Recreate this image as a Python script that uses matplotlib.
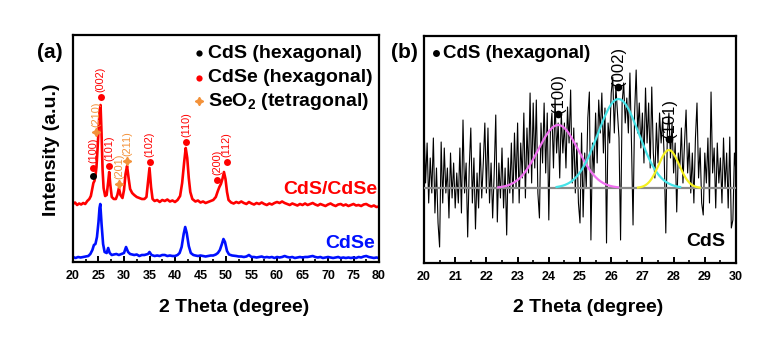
import numpy as np
import matplotlib
matplotlib.use('Agg')
import matplotlib.pyplot as plt
from matplotlib.ticker import MultipleLocator

plt.rcParams['font.family'] = ['Liberation Sans', 'DejaVu Sans']
plt.rcParams['mathtext.fontset'] = 'custom'
plt.rcParams['mathtext.rm'] = 'Liberation Sans'
plt.rcParams['mathtext.bf'] = 'Liberation Sans:bold'

# ---------------- panel (a): XRD patterns (2theta, intensity a.u.) ----------------
cds_cdse_trace = [
    (20.0, 58), (20.4, 59.5), (20.8, 57), (21.2, 58.5), (21.6, 57.5), (22.0, 59),
    (22.4, 58), (22.8, 61), (23.2, 63), (23.5, 66), (23.8, 74), (24.0, 79),
    (24.2, 81), (24.4, 86), (24.6, 95), (24.8, 112), (25.0, 132), (25.2, 150),
    (25.4, 157), (25.6, 128), (25.8, 92), (26.0, 74), (26.3, 66), (26.6, 67),
    (26.9, 80), (27.1, 90), (27.3, 78), (27.6, 65), (28.0, 63), (28.4, 63),
    (28.7, 67), (29.0, 74), (29.3, 67), (29.7, 64), (30.0, 72), (30.3, 88),
    (30.6, 96), (30.9, 84), (31.2, 73), (31.6, 69), (32.0, 67), (32.5, 65),
    (33.0, 64), (33.5, 63), (34.0, 63), (34.4, 65), (34.7, 80), (35.0, 94),
    (35.3, 75), (35.6, 63), (36.0, 61), (36.5, 62), (37.0, 60), (37.5, 62),
    (38.0, 61), (38.5, 62.5), (39.0, 60.5), (39.5, 61.5), (40.0, 60), (40.5, 62),
    (41.0, 66), (41.4, 79), (41.8, 100), (42.1, 114), (42.4, 104), (42.7, 84),
    (43.0, 70), (43.4, 63), (44.0, 60.5), (44.5, 61.5), (45.0, 59.5), (45.5, 60.5),
    (46.0, 59), (46.5, 60), (47.0, 61), (47.5, 62), (48.0, 65), (48.4, 71),
    (48.7, 75), (49.0, 78), (49.3, 83), (49.6, 90), (49.9, 83), (50.2, 70),
    (50.5, 62), (51.0, 59.5), (51.5, 58.5), (52.0, 60), (52.5, 59), (53.0, 60.5),
    (53.5, 59), (54.0, 58), (54.5, 60), (55.0, 58.5), (55.5, 57.5), (56.0, 59),
    (56.5, 58), (57.0, 59.5), (57.5, 58), (58.0, 57), (58.5, 58.5), (59.0, 57.5),
    (59.5, 59), (60.0, 60), (60.5, 59), (61.0, 60.5), (61.5, 59), (62.0, 58),
    (62.5, 57), (63.0, 58.5), (63.5, 57.5), (64.0, 56.5), (64.5, 58), (65.0, 57),
    (65.5, 58.5), (66.0, 57), (66.5, 58), (67.0, 59), (67.5, 57.5), (68.0, 56.5),
    (68.5, 58), (69.0, 57), (69.5, 56), (70.0, 57.5), (70.5, 58.5), (71.0, 57),
    (71.5, 56), (72.0, 57.5), (72.5, 58), (73.0, 56.5), (73.5, 57.5), (74.0, 56),
    (74.5, 57), (75.0, 58), (75.5, 56.5), (76.0, 57), (76.5, 56), (77.0, 57.5),
    (77.5, 58), (78.0, 56.5), (78.5, 55.5), (79.0, 56.5), (79.5, 55), (80.0, 55.5),
]

cdse_trace = [
    (20.0, 5), (20.5, 4), (21.0, 5), (21.5, 4.5), (22.0, 5), (22.5, 5.5),
    (23.0, 6), (23.4, 8), (23.8, 12), (24.1, 17), (24.4, 18), (24.7, 25),
    (25.0, 40), (25.2, 54), (25.35, 58), (25.6, 38), (25.9, 18), (26.2, 10),
    (26.6, 9), (26.9, 14), (27.2, 9), (27.6, 7), (28.0, 7.5), (28.5, 8),
    (29.0, 7), (29.5, 8), (30.0, 9), (30.4, 15), (30.8, 10), (31.2, 8),
    (32.0, 7), (32.5, 7.5), (33.0, 6), (33.5, 7), (34.0, 7), (34.7, 8),
    (35.0, 10), (35.4, 7), (36.0, 6), (36.5, 6.5), (37.0, 6), (37.5, 7),
    (38.0, 7), (38.5, 6), (39.0, 6.5), (39.5, 6), (40.0, 6), (40.5, 7),
    (40.9, 9), (41.3, 15), (41.7, 28), (42.0, 35), (42.3, 29), (42.7, 16),
    (43.1, 9), (43.6, 7), (44.0, 6.5), (44.5, 6), (45.0, 6.5), (45.5, 6),
    (46.0, 5.5), (46.5, 6), (47.0, 6.5), (47.5, 6.5), (48.0, 7.5), (48.4, 9),
    (48.8, 12), (49.2, 18), (49.5, 23), (49.8, 20), (50.2, 11), (50.6, 7.5),
    (51.2, 6.5), (52.0, 6), (52.5, 5.5), (53.0, 5.5), (53.5, 5), (54.0, 5.5),
    (54.5, 7), (55.0, 5), (55.5, 5), (56.0, 4.5), (56.5, 5), (57.0, 5.5),
    (57.5, 4.5), (58.0, 5), (58.5, 4.5), (59.0, 5), (59.5, 4), (60.0, 5),
    (60.5, 4.5), (61.0, 5), (61.5, 6), (62.0, 5), (62.5, 4.5), (63.0, 5),
    (63.5, 4), (64.0, 4.5), (64.5, 5), (65.0, 4.5), (65.5, 5), (66.0, 5),
    (66.5, 5.5), (67.0, 6), (67.5, 5), (68.0, 4.5), (68.5, 5), (69.0, 4),
    (69.5, 4.5), (70.0, 5), (70.5, 4.5), (71.0, 4), (71.5, 4.5), (72.0, 5),
    (72.5, 4), (73.0, 4.5), (73.5, 4), (74.0, 4.5), (74.5, 4), (75.0, 4.5),
    (75.5, 4), (76.0, 5), (76.5, 4.5), (77.0, 5.5), (77.5, 6), (78.0, 5),
    (78.5, 4.5), (79.0, 4), (79.5, 4.5), (80.0, 4),
]

# phase markers with hkl labels
cds_a_x = [23.85]
cds_a_y = [86]
cdse_peak_x = [24.0, 25.4, 27.1, 35.0, 42.2, 48.3, 50.15]
cdse_peak_y = [94, 165, 96, 100, 120, 82, 100]
cdse_hkl = ['(100)', '(002)', '(101)', '(102)', '(110)', '(200)', '(112)']
seo2_peak_x = [24.5, 29.1, 30.65]
seo2_peak_y = [130, 78, 101]
seo2_hkl = ['(210)', '(201)', '(211)']

# ---------------- panel (b): CdS region, 20-30 deg ----------------
cds_theta_start, cds_theta_step = 20.0, 0.05
cds_counts = [
    140, 80, 120, 60, 105, 70, 125, 50, 95, 40,
    16, 121, 60, 115, 70, 95, 45, 110, 65, 100,
    55, 90, 60, 115, 50, 143, 70, 100, 26, 95,
    135, 60, 105, 34, 90, 55, 120, 65, 100, 140,
    70, 135, 60, 100, 45, 90, 148, 41, 100, 65,
    115, 55, 95, 28, 105, 70, 120, 60, 130, 75,
    140, 60, 120, 85, 150, 65, 135, 90, 170, 80,
    160, 95, 163, 70, 45, 140, 100, 160, 90, 150,
    43, 130, 150, 95, 165, 110, 140, 85, 150, 110,
    140, 95, 156, 120, 173, 80, 135, 70, 120, 60,
    40, 130, 46, 110, 75, 145, 171, 23, 120, 90,
    150, 100, 163, 130, 170, 110, 155, 20, 140, 120,
    170, 186, 130, 176, 150, 125, 23, 160, 180, 140,
    165, 130, 190, 120, 38, 150, 193, 130, 160, 115,
    150, 100, 175, 120, 160, 95, 176, 110, 85, 140,
    100, 150, 120, 145, 105, 30, 130, 150, 105, 140,
    90, 120, 51, 110, 95, 135, 80, 120, 153, 90,
    120, 70, 110, 60, 125, 160, 85, 115, 60, 48,
    110, 80, 125, 60, 171, 90, 115, 55, 120, 80,
    105, 60, 125, 75, 110, 55, 126, 35, 43, 110,
    90,
]
cds_baseline = 75
# Gaussian peak fits: centre, height above baseline, sigma
fit_centres = [24.3, 26.23, 27.85]
fit_heights = [63, 89, 38]
fit_sigmas = [0.64, 0.66, 0.33]
fit_colors = ['#F070F0', '#45E3E8', '#F5F020']
cds_b_x = [24.3, 26.23, 27.86]
cds_b_y = [149, 176, 124]
cds_b_hkl = ['(100)', '(002)', '(101)']

RED = '#FF0000'
BLUE = '#0010FF'
ORANGE = '#F3923A'

fig = plt.figure(figsize=(7.79, 3.47), dpi=100)
axa = fig.add_axes([73 / 779, 85 / 347, 306 / 779, 227 / 347])
axb = fig.add_axes([424 / 779, 84 / 347, 312 / 779, 227 / 347])


def style_axis(ax, major, minor):
    for sp in ax.spines.values():
        sp.set_linewidth(1.6)
    ax.set_yticks([])
    ax.xaxis.set_major_locator(MultipleLocator(major))
    ax.xaxis.set_minor_locator(MultipleLocator(minor))
    ax.tick_params(axis='x', which='major', direction='in', length=4,
                   width=1.4, labelsize=9, pad=6)
    ax.tick_params(axis='x', which='minor', direction='in', length=2.2,
                   width=1.2)
    for lbl in ax.get_xticklabels():
        lbl.set_fontweight('bold')


# ---- (a)
rx, ry = zip(*cds_cdse_trace)
bx, by = zip(*cdse_trace)
axa.plot(rx, ry, color=RED, lw=1.9, solid_joinstyle='round', zorder=2)
axa.plot(bx, by, color=BLUE, lw=1.9, solid_joinstyle='round', zorder=2)
axa.plot(cds_a_x, cds_a_y, 'o', color='black', ms=5, mec='none', zorder=4)
axa.plot(cdse_peak_x, cdse_peak_y, 'o', color=RED, ms=5, mec='none', zorder=4)
axa.plot(seo2_peak_x, seo2_peak_y, marker=(4, 1, 0), ls='none', color=ORANGE,
         ms=6, mec=ORANGE, zorder=4)
for x, y, t in zip(cdse_peak_x, cdse_peak_y, cdse_hkl):
    axa.annotate(t, (x, y), xytext=(0, 3.5), textcoords='offset points',
                 rotation=90, ha='center', va='bottom', fontsize=7.8, color=RED)
for x, y, t in zip(seo2_peak_x, seo2_peak_y, seo2_hkl):
    axa.annotate(t, (x, y), xytext=(0, 3.5), textcoords='offset points',
                 rotation=90, ha='center', va='bottom', fontsize=7.8,
                 color=ORANGE)

axa.set_xlim(20, 80)
axa.set_ylim(0, 227)
style_axis(axa, 5, 2.5)

# legend entries
leg_y = [209, 184, 161]
axa.plot([44.7], [leg_y[0]], 'o', color='black', ms=4.5, mec='none')
axa.plot([44.7], [leg_y[1]], 'o', color=RED, ms=4.5, mec='none')
axa.plot([44.7], [leg_y[2]], marker=(4, 1, 0), ls='none', color=ORANGE, ms=6,
         mec=ORANGE)
axa.text(46.4, leg_y[0], 'CdS (hexagonal)', fontsize=14, fontweight='bold',
         va='center', ha='left')
axa.text(46.4, leg_y[1], 'CdSe (hexagonal)', fontsize=14, fontweight='bold',
         va='center', ha='left')
axa.text(46.4, leg_y[2], r'SeO$_\mathbf{2}$ (tetragonal)', fontsize=14,
         fontweight='bold', va='center', ha='left')
axa.text(79.6, 72, 'CdS/CdSe', color=RED, fontsize=14, fontweight='bold',
         ha='right', va='center')
axa.text(79.3, 19, 'CdSe', color=BLUE, fontsize=14, fontweight='bold',
         ha='right', va='center')

# ---- (b)
theta_b = cds_theta_start + cds_theta_step * np.arange(len(cds_counts))
axb.plot(theta_b, cds_counts, color='black', lw=0.8, zorder=2)
axb.axhline(cds_baseline, color='#8A8A8A', lw=1.6, zorder=3)
for c, h, s, col in zip(fit_centres, fit_heights, fit_sigmas, fit_colors):
    xs = np.linspace(c - 3 * s, c + 3 * s, 200)
    axb.plot(xs, cds_baseline + h * np.exp(-0.5 * ((xs - c) / s) ** 2),
             color=col, lw=1.6, zorder=4)
axb.plot(cds_b_x, cds_b_y, 'o', color='black', ms=5.5, mec='none', zorder=5)
for x, y, t in zip(cds_b_x, cds_b_y, cds_b_hkl):
    axb.annotate(t, (x, y), xytext=(0, 1), textcoords='offset points',
                 rotation=90, ha='center', va='bottom', fontsize=12,
                 color='black', zorder=6)
axb.plot([20.375], [209.7], 'o', color='black', ms=5, mec='none')
axb.text(20.6, 209.7, 'CdS (hexagonal)', fontsize=13.5, fontweight='bold',
         va='center', ha='left')
axb.text(29.65, 21, 'CdS', fontsize=14, fontweight='bold', ha='right',
         va='center')
axb.set_xlim(20, 30)
axb.set_ylim(0, 227)
style_axis(axb, 1, 0.5)

# labels
fig.text(52 / 779, 1 - 150 / 347, 'Intensity (a.u.)', rotation=90,
         fontsize=14, fontweight='bold', ha='center', va='center')
fig.text(234 / 779, 1 - 307 / 347, '2 Theta (degree)', fontsize=14,
         fontweight='bold', ha='center', va='center')
fig.text(588 / 779, 1 - 307 / 347, '2 Theta (degree)', fontsize=14,
         fontweight='bold', ha='center', va='center')
fig.text(50 / 779, 1 - 53 / 347, '(a)', fontsize=15, fontweight='bold',
         ha='center', va='center')
fig.text(404 / 779, 1 - 53 / 347, '(b)', fontsize=15, fontweight='bold',
         ha='center', va='center')

fig.savefig('out.png', dpi=100)
